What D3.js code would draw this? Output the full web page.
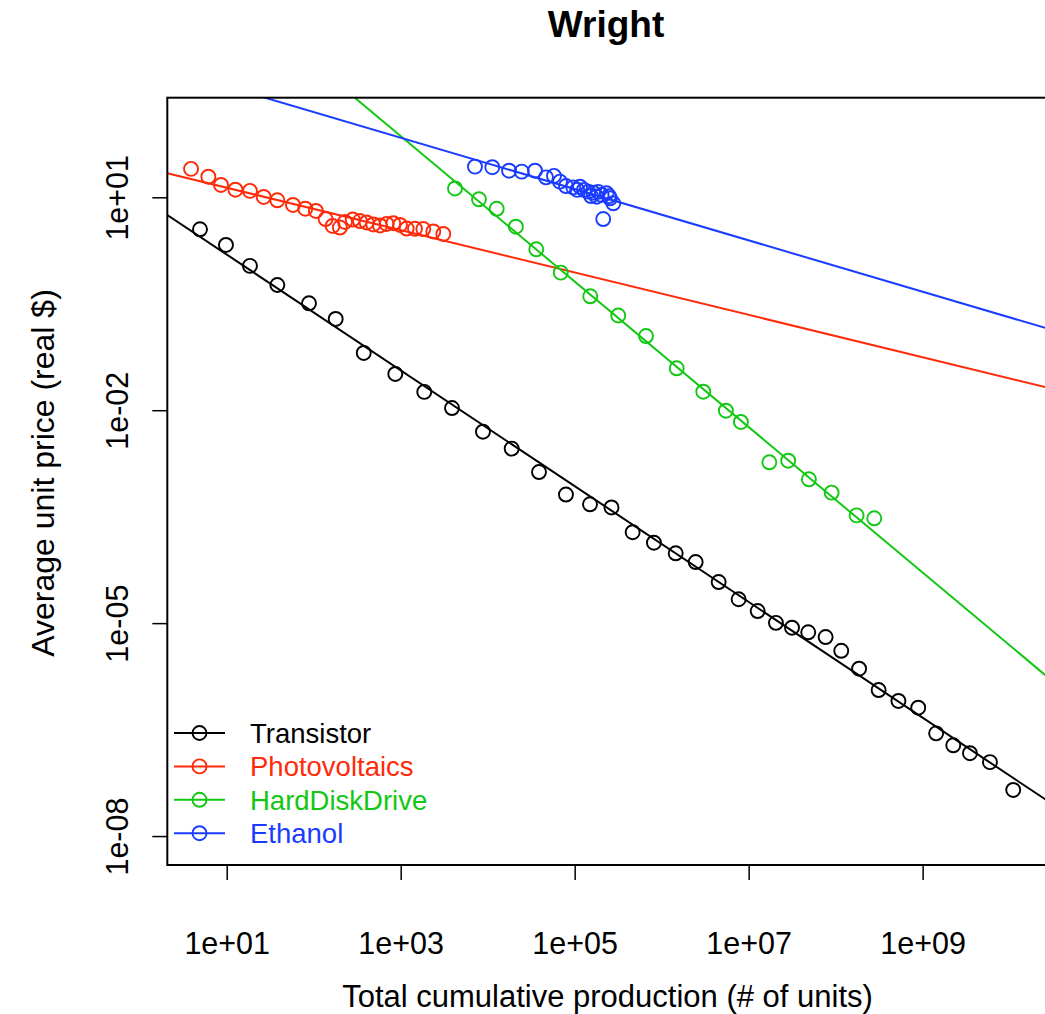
<!DOCTYPE html>
<html>
<head>
<meta charset="utf-8">
<script src="https://cdn.jsdelivr.net/npm/d3@7"></script>
<style>
  body { margin: 0; background: #fff; }
  svg text { font-family: "Liberation Sans", Arial, Helvetica, sans-serif; }
</style>
</head>
<body>
<div id="chart"></div>
<script>
// series names and colours
const seriesNames = ["Transistor", "Photovoltaics", "HardDiskDrive", "Ethanol"];
const seriesColors = ["#000000", "#FF2A0A", "#12C812", "#1A3CFF"];

// Transistor
const transistorX = [4.93, 9.8, 18.5, 38.2, 88.3, 179, 376, 867, 1866, 3890, 8830, 18880, 38900, 79400,
  1.50e5, 2.65e5, 4.64e5, 8.15e5, 1.45e6, 2.46e6, 4.52e6, 7.67e6, 1.27e7, 2.06e7, 3.15e7, 4.84e7,
  7.67e7, 1.16e8, 1.86e8, 3.12e8, 5.27e8, 8.9e8, 1.43e9, 2.25e9, 3.50e9, 5.94e9, 1.10e10];
const transistorY = [3.54, 2.13, 1.08, 0.581, 0.321, 0.193, 0.064, 0.0324, 0.0181, 0.01074, 0.00498,
  0.00288, 0.001346, 6.49e-4, 4.72e-4, 4.26e-4, 1.91e-4, 1.36e-4, 9.64e-5, 7.26e-5, 3.79e-5, 2.17e-5,
  1.48e-5, 1.01e-5, 8.61e-6, 7.43e-6, 6.37e-6, 4.08e-6, 2.28e-6, 1.14e-6, 8.0e-7, 6.43e-7, 2.80e-7,
  1.90e-7, 1.47e-7, 1.10e-7, 4.46e-8];

// Photovoltaics
const pvX = [3.89, 6.15, 8.59, 12.6, 18.5, 26.6, 38.2, 57.8, 80, 106, 137, 165, 200, 229, 281, 340,
  406, 484, 578, 690, 822, 982, 1172, 1460, 1820, 2370, 3090];
const pvY = [25.1, 19.5, 14.9, 12.8, 12.3, 10.1, 9.08, 7.79, 6.90, 6.41, 4.94, 3.94, 3.75, 4.49, 4.86,
  4.63, 4.42, 4.14, 4.01, 4.21, 4.31, 4.07, 3.63, 3.60, 3.57, 3.30, 3.04];

// HardDiskDrive
const hddX = [4210, 7940, 12700, 21100, 36200, 69200, 1.51e5, 3.17e5, 6.61e5, 1.49e6, 3.01e6, 5.48e6,
  8.15e6, 1.73e7, 2.85e7, 4.93e7, 8.99e7, 1.74e8, 2.78e8];
const hddY = [13.3, 9.37, 6.89, 3.85, 1.85, 0.867, 0.403, 0.216, 0.111, 0.039, 0.01824, 0.00984,
  0.00683, 0.001845, 0.001945, 0.001064, 6.89e-4, 3.30e-4, 3.00e-4];

// Ethanol
const ethX = [7140, 11300, 17600, 24600, 35000, 46800, 57800, 67800, 79400, 96400, 107000, 115000,
  128000, 143000, 154000, 164000, 179000, 186000, 204000, 213000, 233000, 248000, 255000, 278000];
const ethY = [27.0, 26.5, 23.7, 23.0, 23.7, 19.1, 20.0, 16.6, 14.4, 13.8, 12.7, 14.1, 12.7, 12.0,
  10.4, 11.6, 10.2, 11.9, 10.8, 4.94, 11.4, 10.4, 9.68, 8.23];

// fitted lines: log10(y) = intercept + slope * log10(x)
const fitIntercept = [1.009, 1.433, 4.937, 2.924];
const fitSlope = [-0.8157, -0.2985, -1.0249, -0.3616];

// axis ticks
const xTicks = [1e1, 1e3, 1e5, 1e7, 1e9];
const xTickLabels = ["1e+01", "1e+03", "1e+05", "1e+07", "1e+09"];
const yTicks = [1e1, 1e-2, 1e-5, 1e-8];
const yTickLabels = ["1e+01", "1e-02", "1e-05", "1e-08"];

const seriesX = [transistorX, pvX, hddX, ethX];
const seriesY = [transistorY, pvY, hddY, ethY];

const W = 1045, H = 1014;
const plot = {left: 167.3, right: 1047, top: 97.7, bottom: 865};

const svg = d3.select("#chart").append("svg")
  .attr("width", W)
  .attr("height", H);

const x = d3.scaleLog()
  .domain([2.075, 2.69e10])
  .range([plot.left, plot.right]);

const y = d3.scaleLog()
  .domain([3.91e-9, 253])
  .range([plot.bottom, plot.top]);

svg.append("clipPath").attr("id", "clip")
  .append("rect")
    .attr("x", plot.left).attr("y", plot.top)
    .attr("width", plot.right - plot.left).attr("height", plot.bottom - plot.top);

const g = svg.append("g").attr("clip-path", "url(#clip)");

// fit lines
const line = d3.line().x(d => x(d[0])).y(d => y(d[1]));
seriesNames.forEach((name, i) => {
  const xs = x.domain();
  const pts = xs.map(v => [v, Math.pow(10, fitIntercept[i] + fitSlope[i] * Math.log10(v))]);
  g.append("path")
    .attr("d", line(pts))
    .attr("fill", "none")
    .attr("stroke", seriesColors[i])
    .attr("stroke-width", 2);
});

// points
seriesNames.forEach((name, i) => {
  g.selectAll(null)
    .data(d3.zip(seriesX[i], seriesY[i]))
    .join("circle")
      .attr("cx", d => x(d[0]))
      .attr("cy", d => y(d[1]))
      .attr("r", 7)
      .attr("fill", "none")
      .attr("stroke", seriesColors[i])
      .attr("stroke-width", 1.9);
});

// box
svg.append("rect")
  .attr("x", plot.left).attr("y", plot.top)
  .attr("width", plot.right - plot.left).attr("height", plot.bottom - plot.top)
  .attr("fill", "none")
  .attr("stroke", "#000")
  .attr("stroke-width", 2);

// x axis
const xAxis = svg.append("g")
  .attr("transform", `translate(0,${plot.bottom})`)
  .call(d3.axisBottom(x).tickValues(xTicks).tickFormat((d, i) => xTickLabels[i]).tickSize(15).tickSizeOuter(0));
xAxis.select(".domain").remove();
xAxis.selectAll("line").attr("stroke-width", 1.5);
xAxis.selectAll("text")
  .attr("dy", null)
  .attr("y", 89)
  .style("font-size", "30.5px")
  .attr("fill", "#000");

// y axis
const yAxis = svg.append("g")
  .attr("transform", `translate(${plot.left},0)`)
  .call(d3.axisLeft(y).tickValues(yTicks).tickFormat((d, i) => yTickLabels[i]).tickSize(15).tickSizeOuter(0));
yAxis.select(".domain").remove();
yAxis.selectAll("line").attr("stroke-width", 1.5);
yAxis.selectAll("text")
  .attr("x", null).attr("dy", null)
  .attr("transform", "translate(-39,0) rotate(-90)")
  .attr("text-anchor", "middle")
  .style("font-size", "30.5px")
  .attr("fill", "#000");

// axis titles
svg.append("text")
  .attr("x", 607.5)
  .attr("y", 1007)
  .attr("text-anchor", "middle")
  .style("font-size", "31px")
  .text("Total cumulative production (# of units)");

svg.append("text")
  .attr("transform", "translate(54,473) rotate(-90)")
  .attr("text-anchor", "middle")
  .style("font-size", "32px")
  .text("Average unit price (real $)");

// title
svg.append("text")
  .attr("x", 606)
  .attr("y", 37)
  .attr("text-anchor", "middle")
  .style("font-size", "37px")
  .style("font-weight", "bold")
  .text("Wright");

// legend
const legend = svg.append("g");
seriesNames.forEach((name, i) => {
  const ly = 733 + i * 33.4;
  legend.append("line")
    .attr("x1", 174).attr("x2", 225)
    .attr("y1", ly).attr("y2", ly)
    .attr("stroke", seriesColors[i])
    .attr("stroke-width", 2);
  legend.append("circle")
    .attr("cx", 199.5).attr("cy", ly).attr("r", 7)
    .attr("fill", "none")
    .attr("stroke", seriesColors[i])
    .attr("stroke-width", 1.9);
  legend.append("text")
    .attr("x", 250).attr("y", ly + 10)
    .style("font-size", "27.5px")
    .attr("fill", seriesColors[i])
    .text(name);
});
</script>
</body>
</html>
